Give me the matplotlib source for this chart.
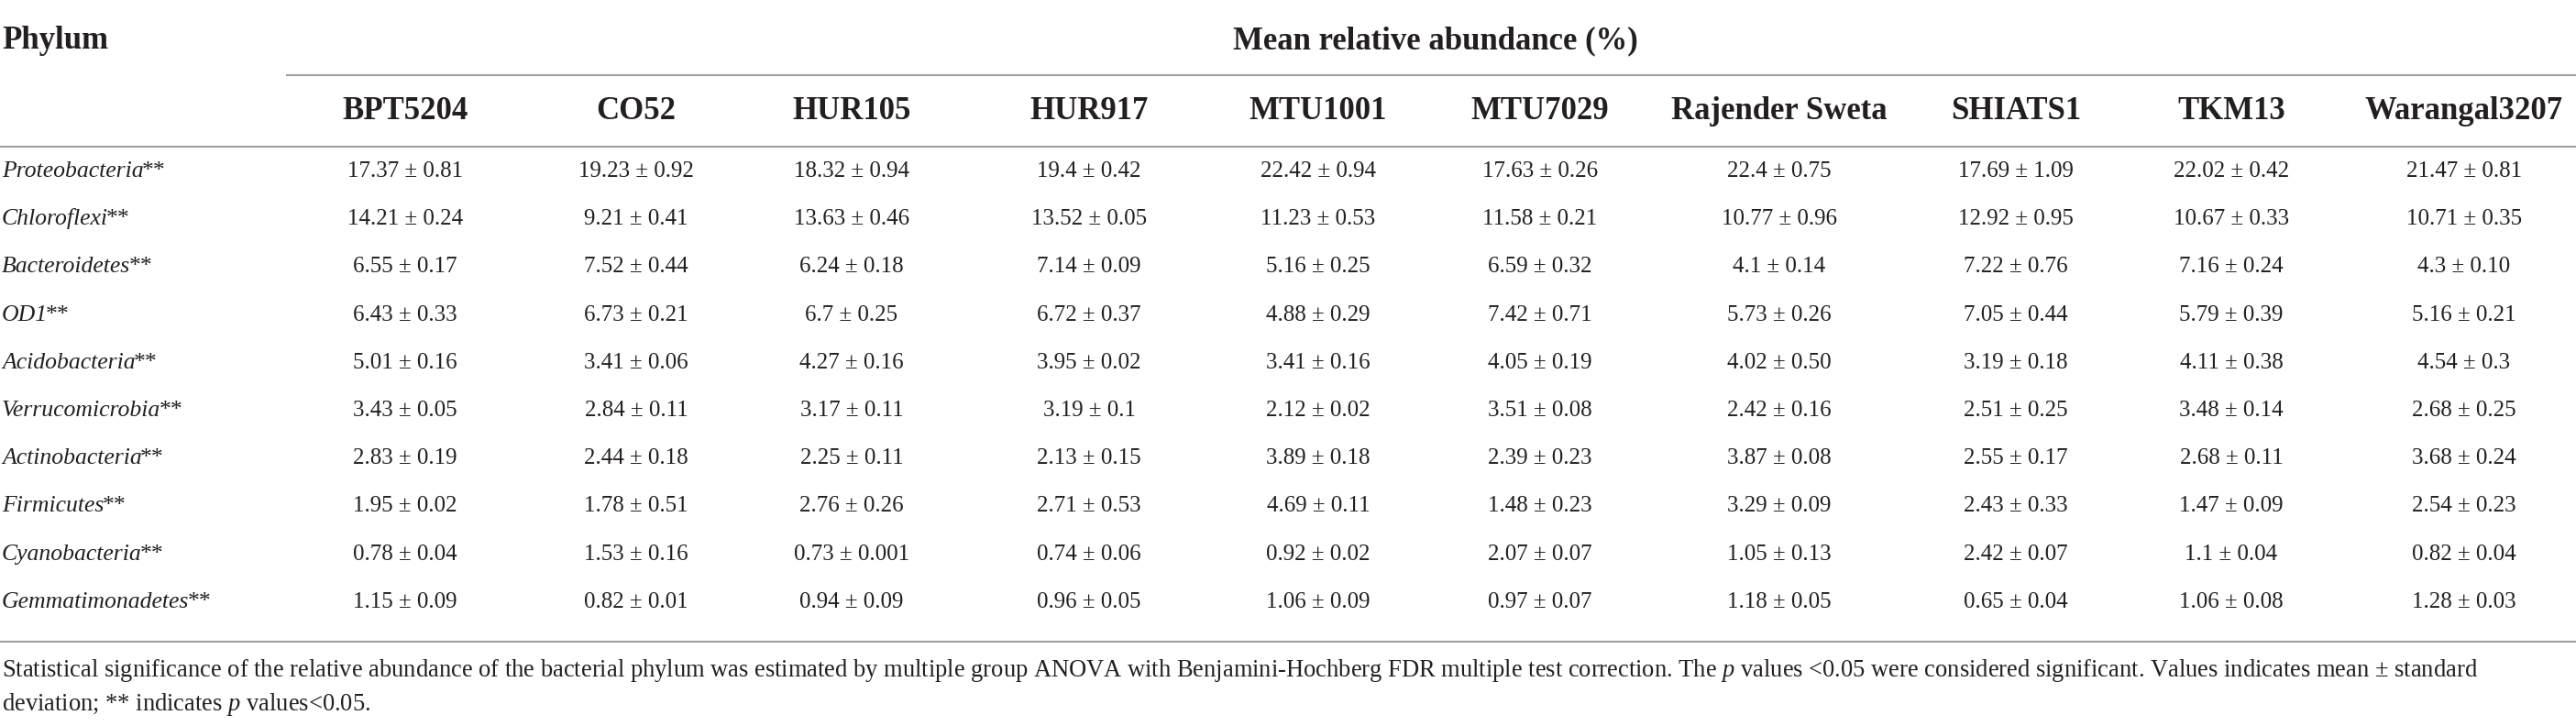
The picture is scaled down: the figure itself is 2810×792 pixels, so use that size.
import matplotlib.pyplot as plt

plt.rcParams['font.family'] = ['Liberation Serif', 'DejaVu Serif']
plt.rcParams['mathtext.fontset'] = 'custom'
plt.rcParams['mathtext.rm'] = 'Liberation Serif'
plt.rcParams['mathtext.it'] = 'Liberation Serif:italic'

# table data
cultivars = ['BPT5204', 'CO52', 'HUR105', 'HUR917', 'MTU1001', 'MTU7029',
             'Rajender Sweta', 'SHIATS1', 'TKM13', 'Warangal3207']
phyla = ['Proteobacteria', 'Chloroflexi', 'Bacteroidetes', 'OD1', 'Acidobacteria',
         'Verrucomicrobia', 'Actinobacteria', 'Firmicutes', 'Cyanobacteria',
         'Gemmatimonadetes']

proteobacteria = ['17.37 ± 0.81', '19.23 ± 0.92', '18.32 ± 0.94', '19.4 ± 0.42', '22.42 ± 0.94',
                  '17.63 ± 0.26', '22.4 ± 0.75', '17.69 ± 1.09', '22.02 ± 0.42', '21.47 ± 0.81']
chloroflexi = ['14.21 ± 0.24', '9.21 ± 0.41', '13.63 ± 0.46', '13.52 ± 0.05', '11.23 ± 0.53',
               '11.58 ± 0.21', '10.77 ± 0.96', '12.92 ± 0.95', '10.67 ± 0.33', '10.71 ± 0.35']
bacteroidetes = ['6.55 ± 0.17', '7.52 ± 0.44', '6.24 ± 0.18', '7.14 ± 0.09', '5.16 ± 0.25',
                 '6.59 ± 0.32', '4.1 ± 0.14', '7.22 ± 0.76', '7.16 ± 0.24', '4.3 ± 0.10']
od1 = ['6.43 ± 0.33', '6.73 ± 0.21', '6.7 ± 0.25', '6.72 ± 0.37', '4.88 ± 0.29',
       '7.42 ± 0.71', '5.73 ± 0.26', '7.05 ± 0.44', '5.79 ± 0.39', '5.16 ± 0.21']
acidobacteria = ['5.01 ± 0.16', '3.41 ± 0.06', '4.27 ± 0.16', '3.95 ± 0.02', '3.41 ± 0.16',
                 '4.05 ± 0.19', '4.02 ± 0.50', '3.19 ± 0.18', '4.11 ± 0.38', '4.54 ± 0.3']
verrucomicrobia = ['3.43 ± 0.05', '2.84 ± 0.11', '3.17 ± 0.11', '3.19 ± 0.1', '2.12 ± 0.02',
                   '3.51 ± 0.08', '2.42 ± 0.16', '2.51 ± 0.25', '3.48 ± 0.14', '2.68 ± 0.25']
actinobacteria = ['2.83 ± 0.19', '2.44 ± 0.18', '2.25 ± 0.11', '2.13 ± 0.15', '3.89 ± 0.18',
                  '2.39 ± 0.23', '3.87 ± 0.08', '2.55 ± 0.17', '2.68 ± 0.11', '3.68 ± 0.24']
firmicutes = ['1.95 ± 0.02', '1.78 ± 0.51', '2.76 ± 0.26', '2.71 ± 0.53', '4.69 ± 0.11',
              '1.48 ± 0.23', '3.29 ± 0.09', '2.43 ± 0.33', '1.47 ± 0.09', '2.54 ± 0.23']
cyanobacteria = ['0.78 ± 0.04', '1.53 ± 0.16', '0.73 ± 0.001', '0.74 ± 0.06', '0.92 ± 0.02',
                 '2.07 ± 0.07', '1.05 ± 0.13', '2.42 ± 0.07', '1.1 ± 0.04', '0.82 ± 0.04']
gemmatimonadetes = ['1.15 ± 0.09', '0.82 ± 0.01', '0.94 ± 0.09', '0.96 ± 0.05', '1.06 ± 0.09',
                    '0.97 ± 0.07', '1.18 ± 0.05', '0.65 ± 0.04', '1.06 ± 0.08', '1.28 ± 0.03']

rows = [proteobacteria, chloroflexi, bacteroidetes, od1, acidobacteria,
        verrucomicrobia, actinobacteria, firmicutes, cyanobacteria, gemmatimonadetes]

note1 = ('Statistical significance of the relative abundance of the bacterial phylum was estimated '
         'by multiple group ANOVA with Benjamini-Hochberg FDR multiple test correction. The $p$ values '
         '<0.05 were considered significant. Values indicates mean ± standard')
note2 = 'deviation; ** indicates $p$ values<0.05.'

# layout (pixels)
W, H = 2810, 792
col_x = [442, 694, 929, 1188, 1438, 1680, 1941, 2199, 2434, 2688]
row_base0 = 193
row_step = 52.2
txt = '#231f20'
rule = '#a0a0a0'

fig = plt.figure(figsize=(W / 100, H / 100), dpi=100)
ax = fig.add_axes([0, 0, 1, 1])
ax.set_xlim(0, W)
ax.set_ylim(H, 0)
ax.axis('off')
renderer = fig.canvas.get_renderer()


def fit_size(t, width, size):
    # scale font so the text spans the same width as in the reference
    w = t.get_window_extent(renderer).width
    t.set_fontsize(size * width / w)
    return size * width / w


ax.text(2, 53, 'Phylum', fontsize=25, fontweight='bold', color=txt, va='baseline', ha='left')
ax.text(1566, 53, 'Mean relative abundance (%)', fontsize=25, fontweight='bold', color=txt,
        va='baseline', ha='center')

ax.plot([312, W], [82, 82], color=rule, lw=1.5, solid_capstyle='butt')
ax.plot([0, W], [160, 160], color=rule, lw=1.5, solid_capstyle='butt')
ax.plot([0, W], [700, 700], color=rule, lw=1.5, solid_capstyle='butt')

for x, name in zip(col_x, cultivars):
    ax.text(x, 130, name, fontsize=25, fontweight='bold', color=txt, va='baseline', ha='center')

name_size = 18.5
for i, (name, vals) in enumerate(zip(phyla, rows)):
    y = row_base0 + i * row_step
    t = ax.text(2, y, name, fontsize=name_size, style='italic', color=txt,
                va='baseline', ha='left')
    x_end = ax.transData.inverted().transform(
        (t.get_window_extent(renderer).x1, 0))[0]
    ax.text(x_end - 2, y, '**', fontsize=name_size, color=txt, va='baseline', ha='left')
    for x, v in zip(col_x, vals):
        ax.text(x, y, v, fontsize=18, color=txt, va='baseline', ha='center')

t1 = ax.text(2, 738, note1, fontsize=18, color=txt, va='baseline', ha='left')
note_size = fit_size(t1, 2705, 18)
ax.text(2, 775, note2, fontsize=note_size, color=txt, va='baseline', ha='left')

fig.savefig('out.png', dpi=100)
